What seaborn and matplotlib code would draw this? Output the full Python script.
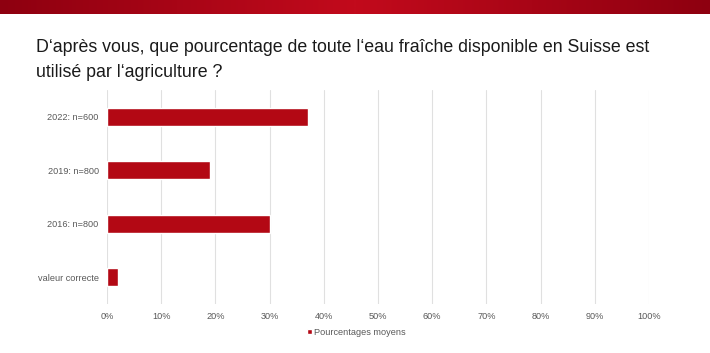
import numpy as np
import pandas as pd
import matplotlib
matplotlib.use('Agg')
import matplotlib.pyplot as plt
import seaborn as sns
from matplotlib.ticker import FuncFormatter

categories = ['2022: n=600', '2019: n=800', '2016: n=800', 'valeur correcte']
values = [37, 19, 30, 2]
series_name = 'Pourcentages moyens'
title = "D\u2018après vous, que pourcentage de toute l\u2018eau fraîche disponible en Suisse est\nutilisé par l\u2018agriculture ?"

sns.set_style('white')
plt.rcParams['font.family'] = ['Liberation Sans', 'DejaVu Sans']

df = pd.DataFrame({'cat': categories, 'val': values})

fig = plt.figure(figsize=(7.1, 3.53), dpi=100)

# red band on top
band = fig.add_axes([0, 1 - 14 / 353, 1, 14 / 353])
grad = np.linspace(0, 1, 256)
grad = 1 - np.abs(grad - 0.5) * 2
band.imshow(grad[None, :], aspect='auto', cmap=matplotlib.colors.LinearSegmentedColormap.from_list(
    'b', ['#8e0010', '#c20a1c']), extent=[0, 1, 0, 1])
band.axis('off')

fig.text(0.051, 1 - 60 / 353, title, fontsize=12.75, color='#1a1a1a', va='center',
         linespacing=1.58, ha='left')

ax = fig.add_axes([107 / 710, 1 - 303.75 / 353, (649 - 107) / 710, (303.75 - 90.25) / 353])
sns.barplot(data=df, x='val', y='cat', color='#b30814', width=0.34, ax=ax,
            label=series_name, saturation=1)
ax.set_xlim(0, 100)
ax.set_xticks(np.arange(0, 101, 10))
ax.xaxis.set_major_formatter(FuncFormatter(lambda v, p: f'{int(v)}%'))
ax.set_xlabel('')
ax.set_ylabel('')
ax.grid(axis='x', color='#e0e0e0', linewidth=0.8)
ax.set_axisbelow(True)
for s in ax.spines.values():
    s.set_visible(False)
ax.tick_params(axis='both', length=0, labelsize=6.6, colors='#595959', pad=6)
ax.tick_params(axis='x', pad=6)

leg = ax.legend(loc='upper center', bbox_to_anchor=(0.46, -0.075), frameon=False,
                fontsize=6.6, handlelength=0.5, handleheight=0.5, handletextpad=0.2)
for t in leg.get_texts():
    t.set_color('#595959')

fig.savefig('out.png', dpi=100)
